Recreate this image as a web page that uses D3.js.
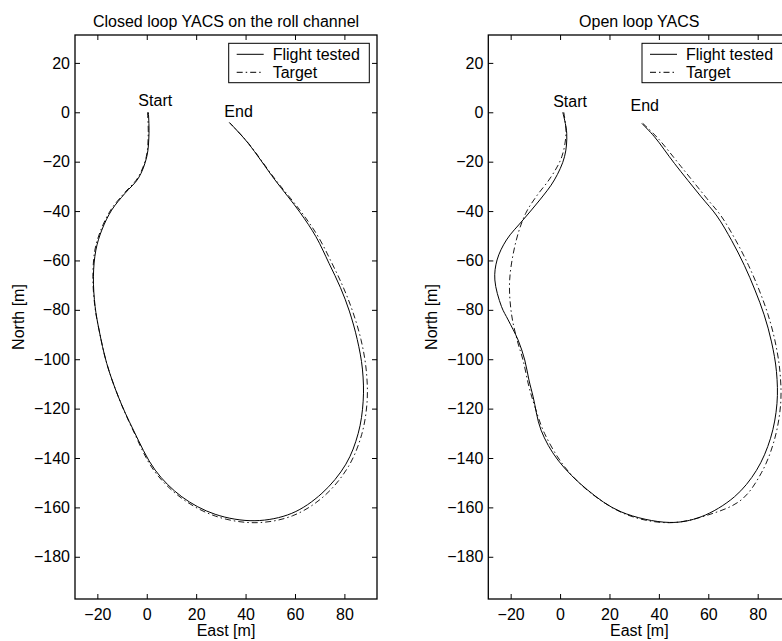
<!DOCTYPE html>
<html>
<head>
<meta charset="utf-8">
<script src="https://cdn.jsdelivr.net/npm/d3@7"></script>
<style>
  body { margin: 0; background: #fff; }
  text { font-family: "Liberation Sans", Arial, sans-serif; fill: #000; }
</style>
</head>
<body>
<script>
// tick values
let xTicks = [-20, 0, 20, 40, 60, 80];
let yTicks = [20, 0, -20, -40, -60, -80, -100, -120, -140, -160, -180];

// closed loop trajectories [east, north]
let closedFlight = [
  [0.65, 0], [0.9, -8.5], [0, -18], [-3.4, -26.7], [-8.8, -32.8], [-14.2, -39.6],
  [-18.2, -47.7], [-20.6, -55.8], [-21.6, -66.6], [-20.9, -78.7], [-19.3, -88.2],
  [-16.2, -101.7], [-11.5, -115.2], [-5.4, -128.7], [3.4, -144.9], [14.2, -155.7],
  [27.7, -162.8], [43.8, -165.4], [58.7, -162.4], [70.9, -154.3], [80.6, -142.5],
  [85.6, -130], [87.6, -117], [87.3, -104], [85.2, -92], [82.0, -80.5],
  [78.4, -71], [73.8, -61.2], [68.5, -50.4], [62.0, -40.5], [51.9, -27.4],
  [41.1, -12.6], [35.7, -6.5], [33.4, -4.1]
];
let closedTarget = [
  [0.3, 0], [0.6, -8.5], [-0.2, -18], [-3.6, -26.5], [-9.2, -32.8], [-14.6, -39.6],
  [-18.6, -47.7], [-21, -55.8], [-21.8, -66.6], [-21, -78.7], [-19.3, -88.2],
  [-16.2, -101.7], [-11.5, -115.2], [-5.6, -128.7], [3.0, -145.2], [14.0, -156.2],
  [27.7, -163.5], [43.8, -166.2], [59, -163.4], [71.7, -155.5], [81.6, -143.5],
  [87, -130.5], [89.2, -117], [88.8, -104], [86.7, -92], [83.3, -80.5],
  [79.6, -71], [74.9, -61], [69.3, -50.2], [62.5, -40.3], [52.2, -27.4],
  [41.2, -12.6], [35.5, -6.3], [33.6, -4.3]
];

// open loop trajectories [east, north]
let openFlight = [
  [1.1, 0], [2.7, -8.5], [1.8, -18], [-2.3, -27.4], [-8.2, -35.5], [-15, -43.6],
  [-21.7, -51.7], [-25.5, -59.8], [-26.4, -67.9], [-23.7, -78.7], [-21, -84.1],
  [-17, -92.2], [-14.3, -100.3], [-12.6, -108.4], [-10.9, -115.2], [-7.7, -128.7],
  [-0.9, -140.8], [11.2, -153], [24.7, -161.8], [44.3, -166.1], [57.1, -163.8],
  [70.6, -155.7], [79.5, -145], [85.2, -132], [87.8, -118], [87.6, -105],
  [85.6, -93], [82.6, -82], [78.9, -72], [74.6, -62], [69.5, -52], [63.5, -42],
  [57.1, -34.2], [46.3, -20.7], [38.2, -9.9], [33.1, -4.5]
];
let openTarget = [
  [1.5, 0], [2.4, -8.5], [0.7, -18], [-3.6, -26.1], [-9.7, -34.2], [-13.9, -40.9],
  [-17.7, -51.7], [-20.4, -67.9], [-19.7, -81.4], [-17.4, -92.2], [-15, -100.3],
  [-12.6, -111.1], [-10.2, -119.2], [-6.3, -130], [1.8, -143.5], [12.6, -154.3],
  [27.4, -163.1], [44.3, -166.2], [59.8, -163.1], [73.3, -157], [81.5, -146],
  [86.8, -132.5], [89.3, -118], [89, -105], [87.1, -93], [84.2, -82], [80.6, -72],
  [76.3, -62], [71.2, -52], [65.2, -42], [59.5, -35], [49, -22],
  [39.6, -10.5], [33.5, -4.5]
];

let titles = ["Closed loop YACS on the roll channel", "Open loop YACS"];
let seriesNames = ["Flight tested", "Target"];
// annotation anchors in data units
let startLabels = [[-3.4, 2.6], [-2.8, 2.0]];
let endLabels = [[31.4, -1.8], [28.5, 0.5]];

let svg = d3.select("body")
  .append("svg")
    .attr("width", 782)
    .attr("height", 641)
    .style("display", "block");

let panels = [
  {left: 75, flight: closedFlight, target: closedTarget},
  {left: 488.3, flight: openFlight, target: openTarget}
];

let axTop = 35, axBottom = 599, w = 302;
let dashDot = "6,3,1.5,3";

panels.forEach(function(p, i){
  let x = d3.scaleLinear().domain([-29.05, 93.2]).range([p.left, p.left + w]);
  let y = d3.scaleLinear().domain([-197.1, 31.3]).range([axBottom, axTop]);
  let g = svg.append("g");

  // ticks, inside on all four sides
  g.append("g").attr("transform", "translate(0," + axBottom + ")")
    .call(d3.axisBottom(x).tickValues(xTicks).tickSizeInner(-5).tickSizeOuter(0).tickPadding(10)
      .tickFormat(d => d < 0 ? "\u2212" + Math.abs(d) : d));
  g.append("g").attr("transform", "translate(0," + axTop + ")")
    .call(d3.axisTop(x).tickValues(xTicks).tickSizeInner(-5).tickSizeOuter(0).tickFormat(""));
  g.append("g").attr("transform", "translate(" + p.left + ",0)")
    .call(d3.axisLeft(y).tickValues(yTicks).tickSizeInner(-5).tickSizeOuter(0).tickPadding(5)
      .tickFormat(d => d < 0 ? "\u2212" + Math.abs(d) : d));
  g.append("g").attr("transform", "translate(" + (p.left + w) + ",0)")
    .call(d3.axisRight(y).tickValues(yTicks).tickSizeInner(-5).tickSizeOuter(0).tickFormat(""));
  g.selectAll(".domain").remove();
  g.selectAll(".tick line").attr("stroke", "#000").attr("stroke-width", 1);
  g.selectAll(".tick text").style("font-size", "16px").attr("fill", "#000")
    .style("font-family", "Liberation Sans, Arial, sans-serif");

  g.append("rect")
    .attr("x", p.left).attr("y", axTop).attr("width", w).attr("height", axBottom - axTop)
    .attr("fill", "none").attr("stroke", "#000").attr("stroke-width", 1.3);

  let line = d3.line().x(d => x(d[0])).y(d => y(d[1])).curve(d3.curveCatmullRom);

  g.append("path").datum(p.target).attr("d", line)
    .attr("fill", "none").attr("stroke", "#000").attr("stroke-width", 0.9)
    .attr("stroke-dasharray", dashDot);
  g.append("path").datum(p.flight).attr("d", line)
    .attr("fill", "none").attr("stroke", "#000").attr("stroke-width", 1);

  g.append("text").attr("x", x(startLabels[i][0])).attr("y", y(startLabels[i][1]))
    .style("font-size", "16px").text("Start");
  g.append("text").attr("x", x(endLabels[i][0])).attr("y", y(endLabels[i][1]))
    .style("font-size", "16px").text("End");

  // title and axis labels
  g.append("text").attr("x", p.left + w / 2).attr("y", 27)
    .attr("text-anchor", "middle").style("font-size", "16px").text(titles[i]);
  g.append("text").attr("x", p.left + w / 2).attr("y", 636)
    .attr("text-anchor", "middle").style("font-size", "16px").text("East [m]");
  g.append("text")
    .attr("transform", "translate(" + (p.left - 51) + "," + ((axTop + axBottom) / 2) + ") rotate(-90)")
    .attr("text-anchor", "middle").style("font-size", "16px").text("North [m]");

  // legend
  let lx = p.left + w - 148.3, ly = 43.3;
  let leg = g.append("g");
  leg.append("rect").attr("x", lx).attr("y", ly).attr("width", 140.6).attr("height", 39.4)
    .attr("fill", "#fff").attr("stroke", "#000").attr("stroke-width", 1);
  seriesNames.forEach(function(name, k){
    let cy = ly + 11 + k * 18;
    leg.append("line").attr("x1", lx + 8).attr("x2", lx + 35).attr("y1", cy).attr("y2", cy)
      .attr("stroke", "#000").attr("stroke-width", 1)
      .attr("stroke-dasharray", k == 1 ? dashDot : null);
    leg.append("text").attr("x", lx + 44).attr("y", cy + 6)
      .style("font-size", "16px").text(name);
  });
});
</script>
</body>
</html>
